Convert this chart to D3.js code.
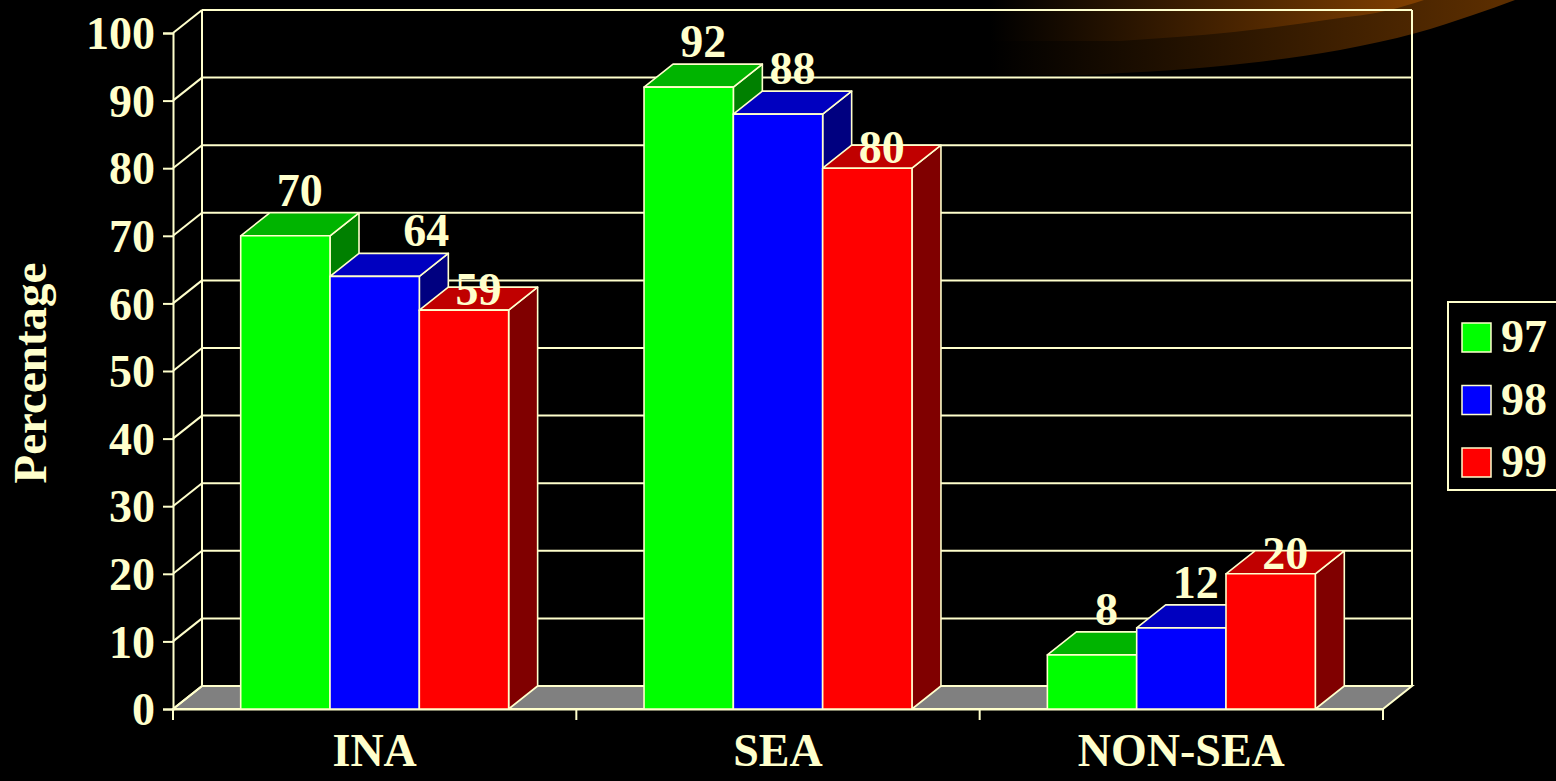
<!DOCTYPE html>
<html>
<head>
<meta charset="utf-8">
<script src="https://cdn.jsdelivr.net/npm/d3@7"></script>
<style>
    html, body { margin: 0; padding: 0; background: #000; }
    svg { display: block; }
    text { font-family: "Liberation Serif", "Times New Roman", serif; font-weight: bold; fill: #FFFFCC; }
</style>
</head>
<body>
<div id="chart"></div>
<script>
'use strict';

// data
var categories = ['INA', 'SEA', 'NON-SEA'];
var seriesNames = ['97', '98', '99'];
var values97 = [70, 92, 8];
var values98 = [64, 88, 12];
var values99 = [59, 80, 20];
var yTicks = [0, 10, 20, 30, 40, 50, 60, 70, 80, 90, 100];

var W = 1556, H = 781;
var CREAM = '#FFFFCC';
var DX = 29, DY = -23;   // 3d depth offset

var seriesColors = {
    '97': { front: '#00FF00', top: '#00B400', side: '#008000' },
    '98': { front: '#0000FF', top: '#0000C0', side: '#000080' },
    '99': { front: '#FF0000', top: '#C00000', side: '#800000' }
};

var svg = d3.select('#chart')
    .append('svg')
    .attr('width', W)
    .attr('height', H);

var x = d3.scaleBand()
    .domain(categories)
    .range([173, 1383]);

var xInner = d3.scaleBand()
    .domain(seriesNames)
    .range([0, x.bandwidth()])
    .paddingOuter(0.758);

var y = d3.scaleLinear()
    .domain([0, 100])
    .range([709, 33]);

// brown swoosh top right (slide decoration)
var defs = svg.append('defs');
function addGrad(id, xa, xb, c) {
    var g = defs.append('linearGradient')
        .attr('id', id)
        .attr('gradientUnits', 'userSpaceOnUse')
        .attr('x1', xa).attr('y1', 0).attr('x2', xb).attr('y2', 0);
    g.append('stop').attr('offset', '0%').attr('stop-color', '#000');
    g.append('stop').attr('offset', '100%').attr('stop-color', c);
}
addGrad('glowLow', 990, 1500, '#5c2e00');
addGrad('glowHigh', 990, 1410, '#7e3e00');

var line = d3.line().curve(d3.curveMonotoneX);
svg.append('path')
    .attr('d', 'M990,0 L990,75 ' + line([[1085, 75], [1249, 63], [1340, 50], [1416, 33], [1473, 15], [1515, 0]]).replace('M', 'L') + 'Z')
    .attr('fill', 'url(#glowLow)');
svg.append('path')
    .attr('d', 'M990,0 L990,41 ' + line([[1120, 41], [1234, 32], [1333, 19], [1390, 10], [1424, 0]]).replace('M', 'L') + 'Z')
    .attr('fill', 'url(#glowHigh)');

var x0 = x.range()[0], x1 = x.range()[1];

// floor
svg.append('polygon')
    .attr('points', [[x0, y(0)], [x1, y(0)], [x1 + DX, y(0) + DY], [x0 + DX, y(0) + DY]].join(' '))
    .attr('fill', '#808080')
    .attr('stroke', CREAM)
    .attr('stroke-width', 2);

// back wall grid + side wall diagonals
var grid = svg.append('g')
    .attr('stroke', CREAM)
    .attr('stroke-width', 2)
    .attr('fill', 'none');

grid.selectAll('line.h')
    .data(yTicks)
    .enter()
    .append('line')
    .attr('x1', x0 + DX).attr('x2', x1 + DX)
    .attr('y1', function (d) { return y(d) + DY; })
    .attr('y2', function (d) { return y(d) + DY; });

grid.selectAll('line.diag')
    .data(yTicks)
    .enter()
    .append('line')
    .attr('x1', x0).attr('x2', x0 + DX)
    .attr('y1', function (d) { return y(d); })
    .attr('y2', function (d) { return y(d) + DY; });

grid.append('line')
    .attr('x1', x0 + DX).attr('x2', x0 + DX)
    .attr('y1', y(100) + DY).attr('y2', y(0) + DY);
grid.append('line')
    .attr('x1', x1 + DX).attr('x2', x1 + DX)
    .attr('y1', y(100) + DY).attr('y2', y(0) + DY);

// y axis
var yAxis = svg.append('g')
    .attr('transform', 'translate(' + x0 + ',0)')
    .call(d3.axisLeft(y).tickValues(yTicks).tickSize(10).tickPadding(8));
yAxis.select('.domain').attr('stroke', CREAM).attr('stroke-width', 2);
yAxis.selectAll('.tick line').attr('stroke', CREAM).attr('stroke-width', 2);
yAxis.selectAll('.tick text')
    .attr('fill', CREAM)
    .attr('font-family', '"Liberation Serif", "Times New Roman", serif')
    .attr('font-weight', 'bold')
    .attr('font-size', '46px')
    .attr('dy', '0.34em');

// x axis
var xAxis = svg.append('g')
    .attr('transform', 'translate(0,' + y(0) + ')')
    .call(d3.axisBottom(x).tickSize(0).tickPadding(22));
xAxis.select('.domain').attr('stroke', CREAM).attr('stroke-width', 2);
xAxis.selectAll('.tick text')
    .attr('fill', CREAM)
    .attr('font-family', '"Liberation Serif", "Times New Roman", serif')
    .attr('font-weight', 'bold')
    .attr('font-size', '46px')
    .attr('dy', '0.75em');

// tick marks between categories
var bounds = categories.map(function (c) { return x(c); }).concat([x1]);
svg.selectAll('line.xtick')
    .data(bounds)
    .enter()
    .append('line')
    .attr('x1', function (d) { return d; })
    .attr('x2', function (d) { return d; })
    .attr('y1', y(0))
    .attr('y2', y(0) + 11)
    .attr('stroke', CREAM)
    .attr('stroke-width', 2);

// bars
var valuesBySeries = { '97': values97, '98': values98, '99': values99 };
var bars = [];
categories.forEach(function (c, ci) {
    seriesNames.forEach(function (s) {
        bars.push({ cat: c, series: s, value: valuesBySeries[s][ci] });
    });
});

var bw = xInner.bandwidth();
var barG = svg.selectAll('g.bar')
    .data(bars)
    .enter()
    .append('g')
    .attr('class', 'bar')
    .attr('stroke', CREAM)
    .attr('stroke-width', 1.6)
    .attr('stroke-linejoin', 'round');

barG.append('polygon')   // side
    .attr('points', function (d) {
        var l = x(d.cat) + xInner(d.series), r = l + bw, t = y(d.value), b = y(0);
        return [[r, b], [r + DX, b + DY], [r + DX, t + DY], [r, t]].join(' ');
    })
    .attr('fill', function (d) { return seriesColors[d.series].side; });

barG.append('polygon')   // top
    .attr('points', function (d) {
        var l = x(d.cat) + xInner(d.series), r = l + bw, t = y(d.value);
        return [[l, t], [r, t], [r + DX, t + DY], [l + DX, t + DY]].join(' ');
    })
    .attr('fill', function (d) { return seriesColors[d.series].top; });

barG.append('rect')      // front
    .attr('x', function (d) { return x(d.cat) + xInner(d.series); })
    .attr('y', function (d) { return y(d.value); })
    .attr('width', bw)
    .attr('height', function (d) { return y(0) - y(d.value); })
    .attr('fill', function (d) { return seriesColors[d.series].front; });

// value labels (red ones sit lower, the 64 one was pushed right)
svg.selectAll('text.val')
    .data(bars)
    .enter()
    .append('text')
    .attr('class', 'val')
    .attr('text-anchor', 'middle')
    .attr('font-size', '46px')
    .attr('x', function (d) {
        var nudge = (d.cat === 'INA' && d.series === '98') ? 37 : 0;
        return x(d.cat) + xInner(d.series) + bw / 2 + DX / 2 + nudge;
    })
    .attr('y', function (d) {
        return y(d.value) - (d.series === '99' ? 5 : 30);
    })
    .text(function (d) { return d.value; });

// y axis title
svg.append('text')
    .attr('transform', 'translate(46,373) rotate(-90)')
    .attr('text-anchor', 'middle')
    .attr('font-size', '47px')
    .text('Percentage');

// legend
var legend = svg.append('g');
legend.append('rect')
    .attr('x', 1448).attr('y', 302)
    .attr('width', 130).attr('height', 188)
    .attr('fill', 'none')
    .attr('stroke', CREAM)
    .attr('stroke-width', 2);

var legendItems = legend.selectAll('g.item')
    .data(seriesNames)
    .enter()
    .append('g')
    .attr('transform', function (d, i) { return 'translate(1462,' + (323 + i * 62.5) + ')'; });
legendItems.append('rect')
    .attr('width', 29).attr('height', 29)
    .attr('fill', function (d) { return seriesColors[d].front; })
    .attr('stroke', CREAM)
    .attr('stroke-width', 1.5);
legendItems.append('text')
    .attr('x', 39)
    .attr('y', 29)
    .attr('font-size', '46px')
    .text(function (d) { return d; });
</script>
</body>
</html>
